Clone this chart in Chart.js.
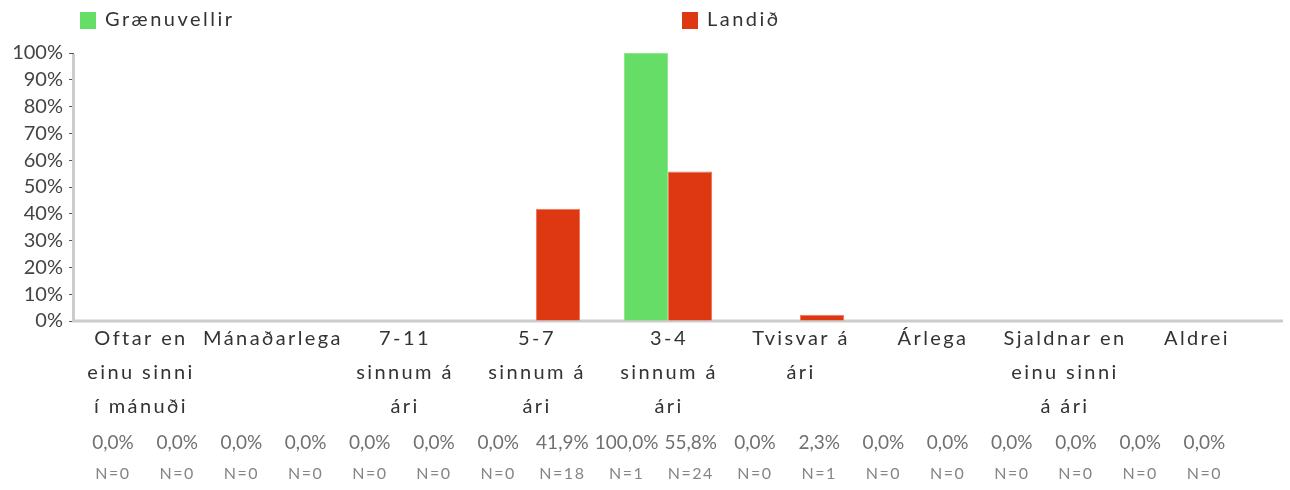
<!DOCTYPE html>
<html><head><meta charset="utf-8">
<script src="https://cdn.jsdelivr.net/npm/chart.js@4/dist/chart.umd.min.js"></script>
<style>html,body{margin:0;padding:0;background:#fff;}#wrap{width:1290px;height:490px;}</style>
</head><body><div id="wrap"><canvas id="c" width="1290" height="490"></canvas></div>
<script>
const categories = [
  ["Oftar en","einu sinni","í mánuði"],
  ["Mánaðarlega"],
  ["7-11","sinnum á","ári"],
  ["5-7","sinnum á","ári"],
  ["3-4","sinnum á","ári"],
  ["Tvisvar á","ári"],
  ["Árlega"],
  ["Sjaldnar en","einu sinni","á ári"],
  ["Aldrei"]
];
const seriesNames = ["Grænuvellir","Landið"];
const seriesColors = ["#66dd66","#dd3811"];
const seriesBorders = ["#8ee88e","#ee7a5c"];
const greenValues = [0,0,0,0,100,0,0,0,0];
const redValues   = [0,0,0,41.9,55.8,2.3,0,0,0];
const greenN = [0,0,0,0,1,0,0,0,0];
const redN   = [0,0,0,18,24,1,0,0,0];
const yTicks = [0,10,20,30,40,50,60,70,80,90,100];

const FONT = "Lato, 'Open Sans', sans-serif";
const valuesBySeries = [greenValues, redValues];
const nBySeries = [greenN, redN];

const deco = {
  id: 'deco',
  beforeDatasetsDraw(chart) {
    const {ctx, chartArea: a} = chart;
    ctx.save();
    ctx.strokeStyle = '#cccccc';
    ctx.lineWidth = 3;
    ctx.beginPath();
    ctx.moveTo(a.left - 0.5, a.top + 1);
    ctx.lineTo(a.left - 0.5, a.bottom);
    ctx.lineTo(chart.width - 7, a.bottom);
    ctx.stroke();
    ctx.restore();
  },
  afterDraw(chart) {
    const {ctx, chartArea: a, scales: {x}} = chart;
    ctx.save();
    ctx.textAlign = 'center';
    ctx.textBaseline = 'middle';
    // category labels
    ctx.font = `20px ${FONT}`;
    ctx.fillStyle = '#333333';
    ctx.letterSpacing = '2.4px';
    categories.forEach((lines, i) => {
      const cx = x.getPixelForTick(i) + 1;
      lines.forEach((t, j) => ctx.fillText(t, cx, a.bottom + 18 + 34 * j));
    });
    // percentage + N labels
    for (let k = 0; k < categories.length * 2; k++) {
      const i = Math.floor(k / 2), s = k % 2;
      const px = a.left + 39 + 64.2 * k;
      ctx.letterSpacing = '0px';
      ctx.font = `19px ${FONT}`;
      ctx.fillStyle = '#707070';
      ctx.fillText(valuesBySeries[s][i].toFixed(1).replace('.', ',') + '%', px, a.bottom + 122);
      ctx.letterSpacing = '1.5px';
      ctx.font = `16px ${FONT}`;
      ctx.fillStyle = '#858585';
      ctx.fillText('N=' + nBySeries[s][i], px, a.bottom + 153);
    }
    // legend
    const legendX = [80, 682];
    chart.data.datasets.forEach((d, s) => {
      ctx.fillStyle = d.backgroundColor;
      ctx.fillRect(legendX[s], 12, 16, 17);
      ctx.font = `20px ${FONT}`;
      ctx.letterSpacing = '2.5px';
      ctx.fillStyle = '#333333';
      ctx.textAlign = 'left';
      ctx.fillText(d.label, legendX[s] + 25, 20);
    });
    ctx.restore();
  }
};

new Chart(document.getElementById('c'), {
  type: 'bar',
  data: {
    labels: categories.map(c => c.join(' ')),
    datasets: [
      { label: seriesNames[0], data: greenValues, backgroundColor: seriesColors[0], borderColor: seriesBorders[0], borderWidth: 1, borderSkipped: 'bottom' },
      { label: seriesNames[1], data: redValues, backgroundColor: seriesColors[1], borderColor: seriesBorders[1], borderWidth: 1, borderSkipped: 'bottom' }
    ]
  },
  options: {
    responsive: false,
    animation: false,
    layout: { padding: { top: 53, right: 28, left: 0, bottom: 0 } },
    plugins: { legend: { display: false }, tooltip: { enabled: false } },
    datasets: { bar: { barPercentage: 1.0, categoryPercentage: 0.667 } },
    scales: {
      x: {
        type: 'category',
        ticks: { display: false },
        grid: { display: false },
        border: { display: false },
        afterFit: s => { s.height = 169; }
      },
      y: {
        min: 0, max: 100,
        afterBuildTicks: s => { s.ticks = yTicks.map(v => ({ value: v })); },
        ticks: { autoSkip: false, callback: v => v + '%', font: { family: FONT, size: 20 }, color: '#444444', padding: 6 },
        grid: { drawOnChartArea: false, drawTicks: true, tickLength: 5, color: '#555555', lineWidth: 1 },
        border: { display: false },
        afterFit: s => { s.width = 74; }
      }
    }
  },
  plugins: [deco]
});
</script>
</body></html>
